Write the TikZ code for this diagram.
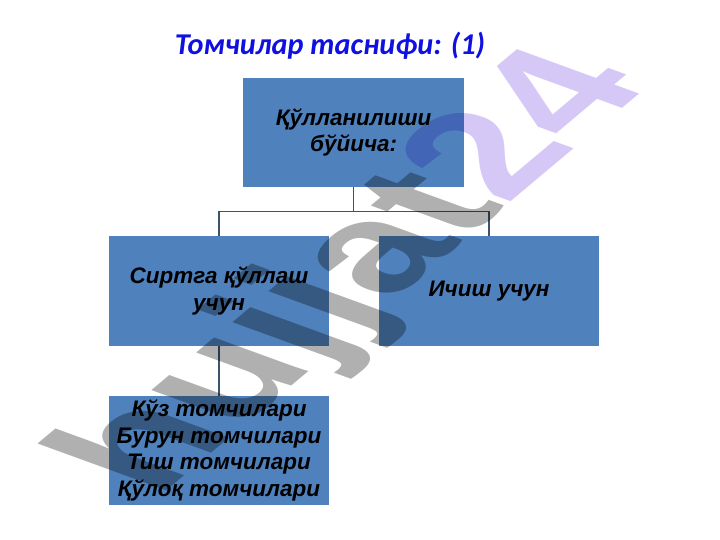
\documentclass[tikz,border=0pt]{standalone}
\usepackage{fontspec}
\setmainfont{Liberation Sans}
\newfontfamily\titlefont{Carlito}

\definecolor{boxblue}{RGB}{79,129,189}
\definecolor{linkgray}{RGB}{58,84,110}
\definecolor{titleblue}{RGB}{16,16,224}
\definecolor{markgray}{RGB}{176,176,176}
\definecolor{marklilac}{RGB}{214,200,246}

\tikzset{
    box/.style={fill=boxblue, minimum width=5.5cm, minimum height=2.75cm,
        align=center, inner sep=0pt,
        font=\fontsize{16}{19}\selectfont\bfseries\itshape},
    link/.style={draw=linkgray, line width=0.9pt},
}

\begin{document}
\begin{tikzpicture}
    %% page
    \useasboundingbox (0,0) rectangle (18,-13.5);

    %% title
    \node[font=\titlefont\fontsize{21.5}{26}\selectfont\bfseries\itshape, text=titleblue] (title) at (8.25,-1.15) {Томчилар таснифи: (1)};

    %% boxes
    \node[box, minimum width=5.525cm, minimum height=2.725cm] (use) at (8.84,-3.31) {Қўлланилиши\\бўйича:};
    \node[box] (outer) at (5.475,-7.275) {Сиртга қўллаш\\учун};
    \node[box] (inner) at (12.225,-7.275) {Ичиш учун};
    \node[box, minimum height=2.725cm] (drops) at (5.475,-11.26) {Кўз томчилари\\Бурун томчилари\\Тиш томчилари\\Қўлоқ томчилари};

    %% connectors
    \draw[link] (use.south) -- ++(0,-0.6) -| (outer.north);
    \draw[link] (use.south) -- ++(0,-0.6) -| (inner.north);
    \draw[link] (outer.south) -- (drops.north);

    %% watermark
    \begin{scope}[blend mode=multiply, shift={(8.975,-6.85)}, cm={0.728,0.611,-0.987,0.359,(0,0)}]
        \node[transform shape, inner sep=0pt, text=markgray, font=\fontsize{128}{128}\selectfont\bfseries] (mark) {hujjat\textcolor{marklilac}{24}};
    \end{scope}
\end{tikzpicture}
\end{document}
